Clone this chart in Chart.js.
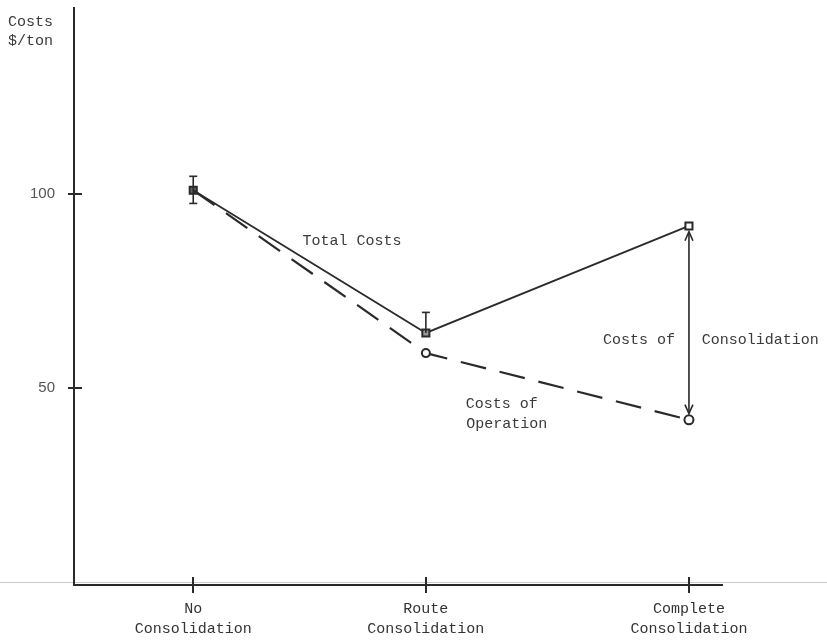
<!DOCTYPE html>
<html>
<head>
<meta charset="utf-8">
<script src="https://cdn.jsdelivr.net/npm/chart.js@4.4.1/dist/chart.umd.min.js"></script>
<style>
html, body { margin: 0; padding: 0; background: #fff; }
#wrap { width: 827px; height: 641px; }
</style>
</head>
<body>
<div id="wrap"><canvas id="costChart" width="827" height="641"></canvas></div>
<script>
// chart data
const categories = [['No', 'Consolidation'], ['Route', 'Consolidation'], ['Complete', 'Consolidation']];
const categoryPositions = [1.84, 5.43, 9.49];
const totalCosts = [101, 64.2, 91.8];
const operationCosts = [101, 59, 41.8];
const yTicks = [50, 100];
// [category index, low, high]
const errorBars = [[0, 97.6, 104.6], [1, 64.2, 69.5]];
const consolidationGap = [90.3, 43.4];

// text labels placed in data coordinates
const notes = [
    { text: 'Total Costs', x: 4.29, y: 87.9 },
    { text: 'Costs of', x: 8.72, y: 62.4 },
    { text: 'Consolidation', x: 10.59, y: 62.4 },
    { text: 'Costs of', x: 6.6, y: 45.9 },
    { text: 'Operation', x: 6.68, y: 40.8 }
];

const ink = '#2a2a2a';
const mono = 'Liberation Mono';

const errData = [];
const errRadius = [];
errorBars.forEach((e, i) => {
    const x = categoryPositions[e[0]];
    if (i > 0) { errData.push({ x: x, y: null }); errRadius.push(0); }
    errData.push({ x: x, y: e[1] }, { x: x, y: e[2] });
    errRadius.push(i === 0 ? 4 : 0, 4);
});

const extras = {
    id: 'extras',
    beforeDraw(chart) {
        const c = chart.ctx;
        c.save();
        c.fillStyle = '#fff';
        c.fillRect(0, 0, chart.width, chart.height);
        // faint scan line across the page
        c.strokeStyle = '#c9c9c9';
        c.lineWidth = 1;
        c.beginPath();
        c.moveTo(0, 582.5);
        c.lineTo(chart.width, 582.5);
        c.stroke();
        c.restore();
    },
    afterDraw(chart) {
        const c = chart.ctx;
        const xs = chart.scales.x, ys = chart.scales.y;
        c.save();
        c.strokeStyle = ink;
        c.lineWidth = 2;
        // crossing tick marks
        yTicks.forEach(v => {
            const py = Math.round(ys.getPixelForValue(v));
            c.beginPath();
            c.moveTo(xs.left - 6, py);
            c.lineTo(xs.left + 8, py);
            c.stroke();
        });
        categoryPositions.forEach(v => {
            const px = Math.round(xs.getPixelForValue(v));
            c.beginPath();
            c.moveTo(px, ys.bottom - 8);
            c.lineTo(px, ys.bottom + 8);
            c.stroke();
        });
        // open arrow heads on the consolidation arrow
        const ax = xs.getPixelForValue(categoryPositions[2]);
        const top = ys.getPixelForValue(consolidationGap[0]);
        const bot = ys.getPixelForValue(consolidationGap[1]);
        c.lineWidth = 1.6;
        c.beginPath();
        c.moveTo(ax - 4, top + 9); c.lineTo(ax, top); c.lineTo(ax + 4, top + 9);
        c.moveTo(ax - 4, bot - 9); c.lineTo(ax, bot); c.lineTo(ax + 4, bot - 9);
        c.stroke();
        // text
        c.fillStyle = '#3a3a3a';
        c.font = '15px "' + mono + '"';
        c.textAlign = 'center';
        c.textBaseline = 'middle';
        notes.forEach(n => {
            c.fillText(n.text, xs.getPixelForValue(n.x), ys.getPixelForValue(n.y));
        });
        c.textAlign = 'left';
        c.fillText('Costs', 8, 22);
        c.fillText('$/ton', 8, 41);
        c.restore();
    }
};

const ctx = document.getElementById('costChart').getContext('2d');
const costChart = new Chart(ctx, {
    type: 'line',
    data: {
        datasets: [
            {
                label: 'Error',
                data: errData,
                borderColor: ink,
                borderWidth: 1.6,
                spanGaps: false,
                pointStyle: 'line',
                pointRadius: errRadius,
                pointBorderWidth: 1.6,
                pointBorderColor: ink
            },
            {
                label: 'Consolidation',
                data: consolidationGap.map(v => ({ x: categoryPositions[2], y: v })),
                borderColor: ink,
                borderWidth: 1.6,
                pointRadius: 0
            },
            {
                label: 'Costs of Operation',
                data: categoryPositions.map((x, i) => ({ x: x, y: operationCosts[i] })),
                borderColor: ink,
                borderWidth: 2.2,
                borderDash: [26, 14],
                pointStyle: 'circle',
                pointRadius: [0, 4, 4.5],
                pointBorderWidth: 2,
                pointBorderColor: ink,
                pointBackgroundColor: '#fff'
            },
            {
                label: 'Total Costs',
                data: categoryPositions.map((x, i) => ({ x: x, y: totalCosts[i] })),
                borderColor: ink,
                borderWidth: 1.8,
                pointStyle: 'rect',
                pointRadius: 5,
                pointBorderWidth: 2,
                pointBorderColor: ink,
                pointBackgroundColor: ['#666', '#999', '#fff']
            }
        ]
    },
    options: {
        responsive: false,
        devicePixelRatio: 1,
        animation: false,
        layout: { padding: { top: 8, right: 105, left: 0, bottom: 0 } },
        plugins: { legend: { display: false }, tooltip: { enabled: false } },
        scales: {
            x: {
                type: 'linear',
                min: 0,
                max: 10,
                afterBuildTicks: s => { s.ticks = categoryPositions.map(v => ({ value: v })); },
                afterFit: s => { s.height = 56; s.paddingLeft = 0; s.paddingRight = 0; },
                border: { color: ink, width: 2 },
                grid: { drawOnChartArea: false, drawTicks: false },
                ticks: {
                    callback: (v, i) => categories[i],
                    color: '#333',
                    font: { family: mono, size: 15, lineHeight: 1.35 },
                    padding: 14,
                    maxRotation: 0,
                    autoSkip: false
                }
            },
            y: {
                type: 'linear',
                min: -0.8,
                max: 148,
                afterBuildTicks: s => { s.ticks = yTicks.map(v => ({ value: v })); },
                afterFit: s => { s.width = 74; s.paddingTop = 0; s.paddingBottom = 0; },
                border: { color: ink, width: 2 },
                grid: { drawOnChartArea: false, drawTicks: false },
                ticks: {
                    color: '#555',
                    font: { family: 'Liberation Sans', size: 15 },
                    padding: 19
                }
            }
        }
    },
    plugins: [extras]
});
</script>
</body>
</html>
